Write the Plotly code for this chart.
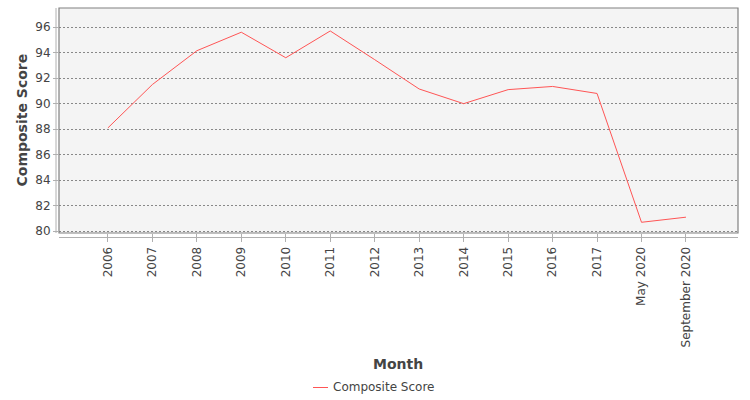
import plotly.graph_objects as go

# Dados
meses = ['2006', '2007', '2008', '2009', '2010', '2011', '2012', '2013',
         '2014', '2015', '2016', '2017', 'May 2020', 'September 2020']
composite = [88.1, 91.5, 94.15, 95.6, 93.6, 95.7, 93.45, 91.15,
             90.0, 91.1, 91.35, 90.8, 80.7, 81.1]

fonte = 'DejaVu Sans'
cinza = '#444444'

L, R, T, B = 59, 12, 8, 167
W, H = 750, 400
pw, ph = W - L - R, H - T - B


def px_x(x):
    return (x - L) / pw


def px_y(y):
    return (H - B - y) / ph


fig = go.Figure()
fig.add_trace(go.Scatter(
    x=meses,
    y=composite,
    mode='lines',
    name='Composite Score',
    line=dict(color='#ff5555', width=1),
    showlegend=False
))

fig.update_layout(
    width=W, height=H,
    margin=dict(l=L, r=R, t=T, b=B, autoexpand=False),
    paper_bgcolor='white',
    plot_bgcolor='#f4f4f4',
    font=dict(family=fonte, size=12, color=cinza),
    shapes=[
        # moldura da área do gráfico
        dict(type='rect', xref='paper', yref='paper', x0=0, y0=0, x1=1, y1=1,
             line=dict(color='#808080', width=1.2)),
        # linha do eixo y (deslocada)
        dict(type='line', xref='paper', yref='paper', x0=px_x(56), x1=px_x(56), y0=0, y1=1,
             line=dict(color='#b0b0b0', width=1)),
        # linha do eixo x (deslocada)
        dict(type='line', xref='paper', yref='paper', x0=0, x1=1, y0=px_y(237.5), y1=px_y(237.5),
             line=dict(color='#b0b0b0', width=1)),
        # amostra da legenda
        dict(type='line', xref='paper', yref='paper', x0=px_x(313), x1=px_x(328),
             y0=px_y(387.5), y1=px_y(387.5), line=dict(color='#ff5555', width=1)),
    ],
    annotations=[
        dict(text='<b>Month</b>', xref='paper', yref='paper', x=px_x(398), y=px_y(364),
             xanchor='center', yanchor='middle', showarrow=False,
             font=dict(size=14, color=cinza)),
        dict(text='<b>Composite Score</b>', xref='paper', yref='paper', x=px_x(21), y=0.5,
             xanchor='center', yanchor='middle', textangle=-90, showarrow=False,
             font=dict(size=14, color=cinza)),
        dict(text='Composite Score', xref='paper', yref='paper', x=px_x(331), y=px_y(387.5),
             xanchor='left', yanchor='middle', showarrow=False,
             font=dict(size=12, color=cinza)),
    ]
)

fig.update_xaxes(
    type='category',
    range=[-1.1, 14.17],
    tickangle=-90,
    ticks='outside', ticklen=8, tickcolor='#b0b0b0',
    showgrid=False, zeroline=False, showline=False, automargin=False,
    tickfont=dict(size=12, color=cinza)
)
fig.update_yaxes(
    range=[79.86, 97.5],
    dtick=2,
    ticks='outside', ticklen=5, tickcolor='#b0b0b0',
    showgrid=True, gridcolor='#888888', griddash='2px,2px', gridwidth=1,
    zeroline=False, showline=False, automargin=False,
    tickfont=dict(size=12, color=cinza)
)

# tira a margem padrão do body para a figura ocupar a janela inteira
fig.write_html('out.html', config={'displayModeBar': False},
               post_script="document.body.style.margin='0';")
